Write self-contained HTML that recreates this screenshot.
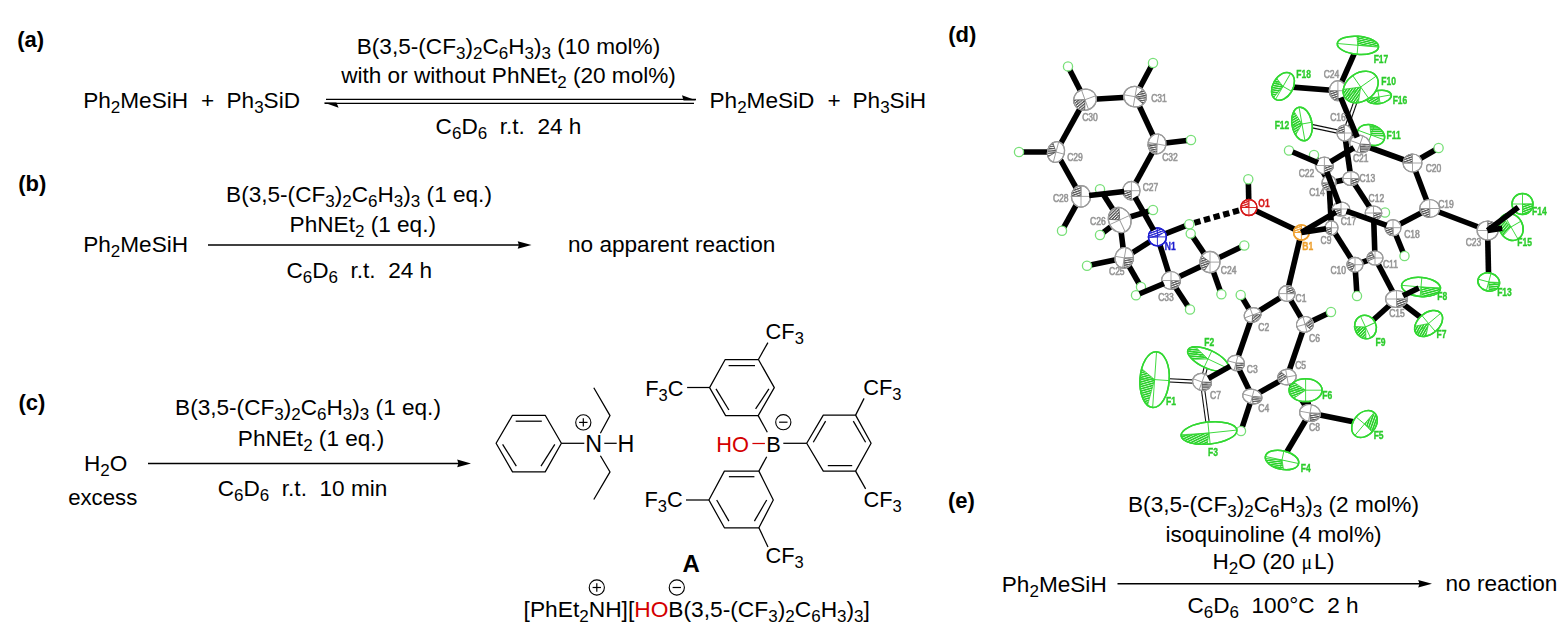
<!DOCTYPE html>
<html><head><meta charset="utf-8"><style>
html,body{margin:0;padding:0;background:#fff;width:1566px;height:630px;overflow:hidden}
svg{display:block;font-family:"Liberation Sans",sans-serif}
</style></head><body>
<svg width="1566" height="630" viewBox="0 0 1566 630">
<rect width="1566" height="630" fill="#fff"/>
<text x="17.3" y="46.5" font-size="22" font-weight="bold" fill="#000" text-anchor="start" >(a)</text>
<text x="18.3" y="191" font-size="22" font-weight="bold" fill="#000" text-anchor="start" >(b)</text>
<text x="18.5" y="410" font-size="22" font-weight="bold" fill="#000" text-anchor="start" >(c)</text>
<text x="948.3" y="42" font-size="22" font-weight="bold" fill="#000" text-anchor="start" >(d)</text>
<text x="948" y="507.5" font-size="22" font-weight="bold" fill="#000" text-anchor="start" >(e)</text>
<text x="83.2" y="108.3" font-size="22.6" font-weight="normal" fill="#000" text-anchor="start" >Ph<tspan font-size="17" baseline-shift="-4.8">2</tspan>MeSiH</text>
<text x="207.5" y="108.3" font-size="22.6" font-weight="normal" fill="#000" text-anchor="middle" >+</text>
<text x="226.5" y="108.3" font-size="22.6" font-weight="normal" fill="#000" text-anchor="start" >Ph<tspan font-size="17" baseline-shift="-4.8">3</tspan>SiD</text>
<text x="508.5" y="53.6" font-size="22.6" font-weight="normal" fill="#000" text-anchor="middle" >B(3,5-(CF<tspan font-size="17" baseline-shift="-4.8">3</tspan>)<tspan font-size="17" baseline-shift="-4.8">2</tspan>C<tspan font-size="17" baseline-shift="-4.8">6</tspan>H<tspan font-size="17" baseline-shift="-4.8">3</tspan>)<tspan font-size="17" baseline-shift="-4.8">3</tspan> (10 mol%)</text>
<text x="508.5" y="83" font-size="22.6" font-weight="normal" fill="#000" text-anchor="middle" >with or without PhNEt<tspan font-size="17" baseline-shift="-4.8">2</tspan> (20 mol%)</text>
<text x="508.5" y="134.1" font-size="22.6" font-weight="normal" fill="#000" text-anchor="middle" xml:space="preserve">C<tspan font-size="17" baseline-shift="-4.8">6</tspan>D<tspan font-size="17" baseline-shift="-4.8">6</tspan>  r.t.  24 h</text>
<line x1="326" y1="99.4" x2="696" y2="99.4" stroke="#000" stroke-width="1.4"/>
<path d="M682,95.2 L696.4,100.6 L683.5,100.6 Z" fill="#000"/>
<line x1="324.5" y1="103.4" x2="694" y2="103.4" stroke="#000" stroke-width="1.4"/>
<path d="M323.8,102.4 L336.4,102.4 L338.6,107.8 Z" fill="#000"/>
<text x="709.5" y="108.3" font-size="22.6" font-weight="normal" fill="#000" text-anchor="start" >Ph<tspan font-size="17" baseline-shift="-4.8">2</tspan>MeSiD</text>
<text x="834" y="108.3" font-size="22.6" font-weight="normal" fill="#000" text-anchor="middle" >+</text>
<text x="852.5" y="108.3" font-size="22.6" font-weight="normal" fill="#000" text-anchor="start" >Ph<tspan font-size="17" baseline-shift="-4.8">3</tspan>SiH</text>
<text x="83.2" y="252.4" font-size="22.6" font-weight="normal" fill="#000" text-anchor="start" >Ph<tspan font-size="17" baseline-shift="-4.8">2</tspan>MeSiH</text>
<text x="359" y="201.6" font-size="22.6" font-weight="normal" fill="#000" text-anchor="middle" >B(3,5-(CF<tspan font-size="17" baseline-shift="-4.8">3</tspan>)<tspan font-size="17" baseline-shift="-4.8">2</tspan>C<tspan font-size="17" baseline-shift="-4.8">6</tspan>H<tspan font-size="17" baseline-shift="-4.8">3</tspan>)<tspan font-size="17" baseline-shift="-4.8">3</tspan> (1 eq.)</text>
<text x="362.8" y="231.7" font-size="22.6" font-weight="normal" fill="#000" text-anchor="middle" >PhNEt<tspan font-size="17" baseline-shift="-4.8">2</tspan> (1 eq.)</text>
<text x="359.3" y="277.5" font-size="22.6" font-weight="normal" fill="#000" text-anchor="middle" xml:space="preserve">C<tspan font-size="17" baseline-shift="-4.8">6</tspan>D<tspan font-size="17" baseline-shift="-4.8">6</tspan>  r.t.  24 h</text>
<line x1="208" y1="245" x2="521.5" y2="245" stroke="#000" stroke-width="1.5"/><path d="M531.5,245 L517.7,241.2 L518.9,245 L517.7,248.8 Z" fill="#000"/>
<text x="568" y="252" font-size="22.6" font-weight="normal" fill="#000" text-anchor="start" >no apparent reaction</text>
<text x="84" y="470.6" font-size="22.6" font-weight="normal" fill="#000" text-anchor="start" >H<tspan font-size="17" baseline-shift="-4.8">2</tspan>O</text>
<text x="68.2" y="504.6" font-size="22.2" font-weight="normal" fill="#000" text-anchor="start" >excess</text>
<text x="308" y="415" font-size="22.6" font-weight="normal" fill="#000" text-anchor="middle" >B(3,5-(CF<tspan font-size="17" baseline-shift="-4.8">3</tspan>)<tspan font-size="17" baseline-shift="-4.8">2</tspan>C<tspan font-size="17" baseline-shift="-4.8">6</tspan>H<tspan font-size="17" baseline-shift="-4.8">3</tspan>)<tspan font-size="17" baseline-shift="-4.8">3</tspan> (1 eq.)</text>
<text x="311" y="445.8" font-size="22.6" font-weight="normal" fill="#000" text-anchor="middle" >PhNEt<tspan font-size="17" baseline-shift="-4.8">2</tspan> (1 eq.)</text>
<text x="302.5" y="496.3" font-size="22.6" font-weight="normal" fill="#000" text-anchor="middle" xml:space="preserve">C<tspan font-size="17" baseline-shift="-4.8">6</tspan>D<tspan font-size="17" baseline-shift="-4.8">6</tspan>  r.t.  10 min</text>
<line x1="148" y1="463.4" x2="461.0" y2="463.4" stroke="#000" stroke-width="1.5"/><path d="M471.0,463.4 L457.2,459.59999999999997 L458.4,463.4 L457.2,467.2 Z" fill="#000"/>
<text x="1001.8" y="592" font-size="22.6" font-weight="normal" fill="#000" text-anchor="start" >Ph<tspan font-size="17" baseline-shift="-4.8">2</tspan>MeSiH</text>
<text x="1273.5" y="512.1" font-size="22.6" font-weight="normal" fill="#000" text-anchor="middle" >B(3,5-(CF<tspan font-size="17" baseline-shift="-4.8">3</tspan>)<tspan font-size="17" baseline-shift="-4.8">2</tspan>C<tspan font-size="17" baseline-shift="-4.8">6</tspan>H<tspan font-size="17" baseline-shift="-4.8">3</tspan>)<tspan font-size="17" baseline-shift="-4.8">3</tspan> (2 mol%)</text>
<text x="1273.5" y="542.4" font-size="22.6" font-weight="normal" fill="#000" text-anchor="middle" >isoquinoline (4 mol%)</text>
<text x="1212.5" y="569" font-size="22.6">H<tspan font-size="17" baseline-shift="-4.8">2</tspan>O (20 <tspan font-family="Liberation Serif" font-size="20" dx="0.5">&#956;</tspan><tspan dx="1.6">L</tspan><tspan dx="0.6">)</tspan></text>
<text x="1273" y="612.6" font-size="22.6" font-weight="normal" fill="#000" text-anchor="middle" xml:space="preserve">C<tspan font-size="17" baseline-shift="-4.8">6</tspan>D<tspan font-size="17" baseline-shift="-4.8">6</tspan>  100°C  2 h</text>
<line x1="1117.5" y1="583.8" x2="1422.0" y2="583.8" stroke="#000" stroke-width="1.5"/><path d="M1432.0,583.8 L1418.2,580.0 L1419.4,583.8 L1418.2,587.5999999999999 Z" fill="#000"/>
<text x="1445.5" y="591" font-size="22.6" font-weight="normal" fill="#000" text-anchor="start" >no reaction</text>
<path d="M496.1,443.3 L512.5,415.3 L545.2,415.3 L561.4,443.3 L545.2,471.9 L512.5,471.9 Z" fill="none" stroke="#000" stroke-width="1.25" stroke-linejoin="round"/>
<line x1="515.7" y1="421.2" x2="541.8" y2="421.2" stroke="#000" stroke-width="1.25"/>
<line x1="502.6" y1="444.3" x2="516.3" y2="466.2" stroke="#000" stroke-width="1.25"/>
<line x1="541" y1="466.2" x2="554.8" y2="444.3" stroke="#000" stroke-width="1.25"/>
<line x1="561.4" y1="443.3" x2="584.3" y2="443.3" stroke="#000" stroke-width="1.25"/>
<text x="585.2" y="451.8" font-size="23.3" font-weight="normal" fill="#000" text-anchor="start" >N</text>
<line x1="604.3" y1="443.3" x2="616.7" y2="443.3" stroke="#000" stroke-width="1.25"/>
<text x="617.6" y="451.8" font-size="23.3" font-weight="normal" fill="#000" text-anchor="start" >H</text>
<circle cx="583.3" cy="422.4" r="7.6" fill="none" stroke="#000" stroke-width="1.1"/><line x1="579.0999999999999" y1="422.4" x2="587.5" y2="422.4" stroke="#000" stroke-width="1.2"/><line x1="583.3" y1="418.2" x2="583.3" y2="426.59999999999997" stroke="#000" stroke-width="1.2"/>
<path d="M600.4,433.3 L610,415.6 L593.8,387.8" fill="none" stroke="#000" stroke-width="1.25" stroke-linejoin="miter"/>
<path d="M600.4,455.7 L610,471.9 L593.8,499.5" fill="none" stroke="#000" stroke-width="1.25" stroke-linejoin="miter"/>
<path d="M709.6,387.6 L725.2,359.5 L758.4,359.5 L774.3,387.6 L758.2,415.6 L725.6,415.6 Z" fill="none" stroke="#000" stroke-width="1.25" stroke-linejoin="round"/>
<line x1="728.6" y1="365.6" x2="755" y2="365.6" stroke="#000" stroke-width="1.25"/>
<line x1="716" y1="388.9" x2="728.9" y2="410" stroke="#000" stroke-width="1.25"/>
<line x1="755.6" y1="408.9" x2="768.9" y2="388.9" stroke="#000" stroke-width="1.25"/>
<line x1="758.4" y1="359.5" x2="767.9" y2="342.6" stroke="#000" stroke-width="1.25"/>
<text x="765.6" y="339.3" font-size="21.8" fill="#000" text-anchor="start">CF<tspan font-size="16.5" baseline-shift="-4.8">3</tspan></text>
<line x1="687.1" y1="387.5" x2="709.6" y2="387.5" stroke="#000" stroke-width="1.25"/>
<text x="645.2" y="395.6" font-size="21.8" fill="#000" text-anchor="start">F<tspan font-size="16.5" baseline-shift="-4.8">3</tspan>C</text>
<line x1="758.2" y1="415.6" x2="767.3" y2="432.2" stroke="#000" stroke-width="1.25"/>
<path d="M806.7,443.3 L823.3,415.1 L855.6,415.1 L871.1,443.3 L855.6,471.1 L823.3,471.1 Z" fill="none" stroke="#000" stroke-width="1.25" stroke-linejoin="round"/>
<line x1="813.3" y1="442.2" x2="825.6" y2="421.1" stroke="#000" stroke-width="1.25"/>
<line x1="853.3" y1="421.1" x2="865.6" y2="442.2" stroke="#000" stroke-width="1.25"/>
<line x1="827.8" y1="465.6" x2="852.2" y2="465.6" stroke="#000" stroke-width="1.25"/>
<line x1="855.6" y1="415.1" x2="864.1" y2="398.4" stroke="#000" stroke-width="1.25"/>
<text x="863.3" y="395.3" font-size="21.8" fill="#000" text-anchor="start">CF<tspan font-size="16.5" baseline-shift="-4.8">3</tspan></text>
<line x1="855.6" y1="471.1" x2="865.6" y2="488.9" stroke="#000" stroke-width="1.25"/>
<text x="863.5" y="506.9" font-size="21.8" fill="#000" text-anchor="start">CF<tspan font-size="16.5" baseline-shift="-4.8">3</tspan></text>
<line x1="783.3" y1="443.3" x2="806.7" y2="443.3" stroke="#000" stroke-width="1.25"/>
<path d="M724.4,471.1 L758.9,471.1 L773.3,500 L758.9,527.8 L724.4,527.8 L708.9,500 Z" fill="none" stroke="#000" stroke-width="1.25" stroke-linejoin="round"/>
<line x1="728.9" y1="476.7" x2="754.4" y2="476.7" stroke="#000" stroke-width="1.25"/>
<line x1="766.7" y1="500" x2="754.4" y2="521.1" stroke="#000" stroke-width="1.25"/>
<line x1="716.7" y1="500" x2="728.9" y2="521.1" stroke="#000" stroke-width="1.25"/>
<line x1="766.7" y1="456.7" x2="758.9" y2="471.1" stroke="#000" stroke-width="1.25"/>
<line x1="686" y1="500" x2="708.9" y2="500" stroke="#000" stroke-width="1.25"/>
<text x="644.5" y="506.9" font-size="21.8" fill="#000" text-anchor="start">F<tspan font-size="16.5" baseline-shift="-4.8">3</tspan>C</text>
<line x1="758.9" y1="527.8" x2="768" y2="547" stroke="#000" stroke-width="1.25"/>
<text x="765.5" y="562.9" font-size="21.8" fill="#000" text-anchor="start">CF<tspan font-size="16.5" baseline-shift="-4.8">3</tspan></text>
<text x="716.3" y="451.7" font-size="21.8" fill="#d40000" text-anchor="start">HO</text>
<line x1="752.4" y1="443.5" x2="764.9" y2="443.5" stroke="#d40000" stroke-width="1.25"/>
<text x="766.3" y="451.7" font-size="21.8" fill="#000" text-anchor="start">B</text>
<circle cx="783.3" cy="422.2" r="7.6" fill="none" stroke="#000" stroke-width="1.1"/><line x1="779.0999999999999" y1="422.2" x2="787.5" y2="422.2" stroke="#000" stroke-width="1.2"/>
<text x="682.6" y="571.7" font-size="24" font-weight="bold" fill="#000" text-anchor="start" >A</text>
<text x="523.6" y="617.1" font-size="22.75" font-weight="normal" fill="#000" text-anchor="start" >[PhEt<tspan font-size="17" baseline-shift="-4.8">2</tspan>NH][<tspan fill="#d40000">HO</tspan>B(3,5-(CF<tspan font-size="17" baseline-shift="-4.8">3</tspan>)<tspan font-size="17" baseline-shift="-4.8">2</tspan>C<tspan font-size="17" baseline-shift="-4.8">6</tspan>H<tspan font-size="17" baseline-shift="-4.8">3</tspan>)<tspan font-size="17" baseline-shift="-4.8">3</tspan>]</text>
<circle cx="596.8" cy="587.5" r="7.6" fill="none" stroke="#000" stroke-width="1.1"/><line x1="592.5999999999999" y1="587.5" x2="601.0" y2="587.5" stroke="#000" stroke-width="1.2"/><line x1="596.8" y1="583.3" x2="596.8" y2="591.7" stroke="#000" stroke-width="1.2"/>
<circle cx="676.8" cy="587.5" r="7.6" fill="none" stroke="#000" stroke-width="1.1"/><line x1="672.5999999999999" y1="587.5" x2="681.0" y2="587.5" stroke="#000" stroke-width="1.2"/>
<filter id="soft" x="930" y="0" width="636" height="500" filterUnits="userSpaceOnUse"><feGaussianBlur stdDeviation="0.4"/></filter>
<g filter="url(#soft)">
<defs><pattern id="hpC" patternUnits="userSpaceOnUse" width="2.2" height="2.2" patternTransform="rotate(70)"><rect width="2.2" height="2.2" fill="#fff"/><rect width="1.3" height="2.2" fill="#505050"/></pattern><pattern id="hpN" patternUnits="userSpaceOnUse" width="2.2" height="2.2" patternTransform="rotate(70)"><rect width="2.2" height="2.2" fill="#fff"/><rect width="1.3" height="2.2" fill="#1f1fd0"/></pattern><pattern id="hpO" patternUnits="userSpaceOnUse" width="2.2" height="2.2" patternTransform="rotate(70)"><rect width="2.2" height="2.2" fill="#fff"/><rect width="1.3" height="2.2" fill="#d61a1a"/></pattern><pattern id="hpB" patternUnits="userSpaceOnUse" width="2.2" height="2.2" patternTransform="rotate(70)"><rect width="2.2" height="2.2" fill="#fff"/><rect width="1.3" height="2.2" fill="#eea030"/></pattern><pattern id="hpF" patternUnits="userSpaceOnUse" width="2.2" height="2.2" patternTransform="rotate(70)"><rect width="2.2" height="2.2" fill="#fff"/><rect width="1.6" height="2.2" fill="#2ad02a"/></pattern><pattern id="hpH" patternUnits="userSpaceOnUse" width="2.2" height="2.2" patternTransform="rotate(70)"><rect width="2.2" height="2.2" fill="#fff"/><rect width="1.3" height="2.2" fill="#78e078"/></pattern></defs>
<line x1="1081" y1="196.4" x2="1056" y2="152" stroke="#000" stroke-width="5.6"/>
<line x1="1056" y1="152" x2="1085" y2="99.7" stroke="#000" stroke-width="5.6"/>
<line x1="1085" y1="99.7" x2="1135" y2="96.7" stroke="#000" stroke-width="5.6"/>
<line x1="1135" y1="96.7" x2="1157" y2="144" stroke="#000" stroke-width="5.6"/>
<line x1="1157" y1="144" x2="1131.4" y2="190.7" stroke="#000" stroke-width="5.6"/>
<line x1="1056" y1="152" x2="1019" y2="152" stroke="#000" stroke-width="5.6"/>
<line x1="1085" y1="99.7" x2="1068" y2="66.4" stroke="#000" stroke-width="5.6"/>
<line x1="1135" y1="96.7" x2="1153" y2="63" stroke="#000" stroke-width="5.6"/>
<line x1="1157" y1="144" x2="1191" y2="140" stroke="#000" stroke-width="5.6"/>
<line x1="1081" y1="196.4" x2="1062" y2="230.7" stroke="#000" stroke-width="5.6"/>
<line x1="1157.4" y1="236.9" x2="1189.3" y2="224.3" stroke="#000" stroke-width="5.6"/>
<line x1="1157.4" y1="236.9" x2="1124.3" y2="257.9" stroke="#000" stroke-width="5.6"/>
<line x1="1157.4" y1="236.9" x2="1171" y2="280.5" stroke="#000" stroke-width="5.6"/>
<line x1="1124.3" y1="257.9" x2="1119.7" y2="220" stroke="#000" stroke-width="5.6"/>
<line x1="1119.7" y1="220" x2="1100" y2="189.3" stroke="#000" stroke-width="5.6"/>
<line x1="1119.7" y1="220" x2="1153" y2="210" stroke="#000" stroke-width="5.6"/>
<line x1="1119.7" y1="220" x2="1100" y2="235" stroke="#000" stroke-width="5.6"/>
<line x1="1124.3" y1="257.9" x2="1087" y2="265.7" stroke="#000" stroke-width="5.6"/>
<line x1="1124.3" y1="257.9" x2="1141" y2="287" stroke="#000" stroke-width="5.6"/>
<line x1="1171" y1="280.5" x2="1190" y2="309.5" stroke="#000" stroke-width="5.6"/>
<line x1="1171" y1="280.5" x2="1210" y2="262.1" stroke="#000" stroke-width="5.6"/>
<line x1="1210" y1="262.1" x2="1190.7" y2="233.6" stroke="#000" stroke-width="5.6"/>
<line x1="1210" y1="262.1" x2="1244.3" y2="245.5" stroke="#000" stroke-width="5.6"/>
<line x1="1210" y1="262.1" x2="1221.4" y2="294.3" stroke="#000" stroke-width="5.6"/>
<line x1="1248.9" y1="207.5" x2="1248.3" y2="179.3" stroke="#000" stroke-width="5.6"/>
<line x1="1248.9" y1="207.5" x2="1301.4" y2="232.5" stroke="#000" stroke-width="5.6"/>
<line x1="1301.4" y1="232.5" x2="1286.9" y2="293.6" stroke="#000" stroke-width="5.6"/>
<line x1="1286.9" y1="293.6" x2="1252.6" y2="315" stroke="#000" stroke-width="5.6"/>
<line x1="1252.6" y1="315" x2="1236" y2="363" stroke="#000" stroke-width="5.6"/>
<line x1="1236" y1="363" x2="1252.3" y2="396.5" stroke="#000" stroke-width="5.6"/>
<line x1="1252.3" y1="396.5" x2="1287" y2="377" stroke="#000" stroke-width="5.6"/>
<line x1="1287" y1="377" x2="1305" y2="324.4" stroke="#000" stroke-width="5.6"/>
<line x1="1305" y1="324.4" x2="1286.9" y2="293.6" stroke="#000" stroke-width="5.6"/>
<line x1="1252.6" y1="315" x2="1240.7" y2="295" stroke="#000" stroke-width="5.6"/>
<line x1="1252.3" y1="396.5" x2="1241" y2="431" stroke="#000" stroke-width="5.6"/>
<line x1="1305" y1="324.4" x2="1331" y2="312" stroke="#000" stroke-width="5.6"/>
<line x1="1287" y1="377" x2="1310" y2="413" stroke="#000" stroke-width="5.6"/>
<line x1="1310" y1="413" x2="1282" y2="460" stroke="#000" stroke-width="5.6"/>
<line x1="1310" y1="413" x2="1364.5" y2="424" stroke="#000" stroke-width="5.6"/>
<line x1="1310" y1="413" x2="1305.6" y2="390.2" stroke="#000" stroke-width="5.6"/>
<line x1="1331.5" y1="227.8" x2="1355" y2="264.7" stroke="#000" stroke-width="5.6"/>
<line x1="1355" y1="264.7" x2="1375" y2="258" stroke="#000" stroke-width="5.6"/>
<line x1="1375" y1="258" x2="1373.5" y2="213" stroke="#000" stroke-width="5.6"/>
<line x1="1373.5" y1="213" x2="1351" y2="178.5" stroke="#000" stroke-width="5.6"/>
<line x1="1351" y1="178.5" x2="1329" y2="183" stroke="#000" stroke-width="5.6"/>
<line x1="1329" y1="183" x2="1331.5" y2="227.8" stroke="#000" stroke-width="5.6"/>
<line x1="1355" y1="264.7" x2="1357" y2="296" stroke="#000" stroke-width="5.6"/>
<line x1="1373.5" y1="213" x2="1385" y2="212.5" stroke="#000" stroke-width="5.6"/>
<line x1="1329" y1="183" x2="1314" y2="155" stroke="#000" stroke-width="5.6"/>
<line x1="1375" y1="258" x2="1396.5" y2="299" stroke="#000" stroke-width="5.6"/>
<line x1="1396.5" y1="299" x2="1428.6" y2="323.5" stroke="#000" stroke-width="5.6"/>
<line x1="1396.5" y1="299" x2="1365.5" y2="327" stroke="#000" stroke-width="5.6"/>
<line x1="1351" y1="178.5" x2="1344.5" y2="133" stroke="#000" stroke-width="5.6"/>
<line x1="1344.5" y1="133" x2="1371" y2="135" stroke="#000" stroke-width="5.6"/>
<line x1="1393" y1="227.7" x2="1429.7" y2="208.5" stroke="#000" stroke-width="5.6"/>
<line x1="1429.7" y1="208.5" x2="1412.5" y2="163" stroke="#000" stroke-width="5.6"/>
<line x1="1412.5" y1="163" x2="1360" y2="144" stroke="#000" stroke-width="5.6"/>
<line x1="1393" y1="227.7" x2="1404.5" y2="256" stroke="#000" stroke-width="5.6"/>
<line x1="1412.5" y1="163" x2="1438.6" y2="148" stroke="#000" stroke-width="5.6"/>
<line x1="1429.7" y1="208.5" x2="1487.6" y2="230.5" stroke="#000" stroke-width="5.6"/>
<line x1="1487.6" y1="230.5" x2="1488.7" y2="282" stroke="#000" stroke-width="5.6"/>
<line x1="1337.9" y1="90.7" x2="1357.9" y2="45.3" stroke="#000" stroke-width="5.6"/>
<line x1="1337.9" y1="90.7" x2="1283" y2="86.4" stroke="#000" stroke-width="5.6"/>
<line x1="1337.9" y1="90.7" x2="1379" y2="97" stroke="#000" stroke-width="5.6"/>
<line x1="1202" y1="382" x2="1154.6" y2="379.6" stroke="#111" stroke-width="4.4"/>
<line x1="1202" y1="382" x2="1154.6" y2="379.6" stroke="#fff" stroke-width="2.2"/>
<line x1="1202" y1="382" x2="1209" y2="433" stroke="#111" stroke-width="4.4"/>
<line x1="1202" y1="382" x2="1209" y2="433" stroke="#fff" stroke-width="2.2"/>
<line x1="1202" y1="382" x2="1208" y2="359" stroke="#111" stroke-width="4.4"/>
<line x1="1202" y1="382" x2="1208" y2="359" stroke="#fff" stroke-width="2.2"/>
<line x1="1344.5" y1="133" x2="1302" y2="124" stroke="#111" stroke-width="4.4"/>
<line x1="1344.5" y1="133" x2="1302" y2="124" stroke="#fff" stroke-width="2.2"/>
<line x1="1344.5" y1="133" x2="1360.7" y2="87" stroke="#111" stroke-width="4.4"/>
<line x1="1344.5" y1="133" x2="1360.7" y2="87" stroke="#fff" stroke-width="2.2"/>
<line x1="1194.3" y1="222.8" x2="1240.9" y2="209.8" stroke="#000" stroke-width="6" stroke-dasharray="6.4,3.6"/>
<circle cx="1019" cy="152" r="4.6" fill="#fff" stroke="#78e078" stroke-width="1.3"/>
<circle cx="1068" cy="66.4" r="4.6" fill="#fff" stroke="#78e078" stroke-width="1.3"/>
<circle cx="1153" cy="63" r="4.6" fill="#fff" stroke="#78e078" stroke-width="1.3"/>
<circle cx="1191" cy="140" r="4.6" fill="#fff" stroke="#78e078" stroke-width="1.3"/>
<circle cx="1062" cy="230.7" r="4.6" fill="#fff" stroke="#78e078" stroke-width="1.3"/>
<circle cx="1100" cy="189.3" r="4.6" fill="#fff" stroke="#78e078" stroke-width="1.3"/>
<g transform="translate(1056,152) rotate(15)"><ellipse rx="8.5" ry="10.5" fill="#ffffff" stroke="#9c9c9c" stroke-width="1.2"/><path d="M0,0 L-6.51,6.75 A8.5,10.5 0 0 1 -5.46,-8.04 Z" fill="url(#hpC)" stroke="#505050" stroke-width="0.7"/><line x1="-8.5" y1="0" x2="8.5" y2="0" stroke="#9c9c9c" stroke-width="0.9"/><line x1="0" y1="-10.5" x2="0" y2="10.5" stroke="#9c9c9c" stroke-width="0.9"/><ellipse rx="8.5" ry="10.5" fill="none" stroke="#9c9c9c" stroke-width="1.2"/></g>
<g transform="translate(1085,99.7) rotate(-20)"><ellipse rx="11.5" ry="10.5" fill="#ffffff" stroke="#9c9c9c" stroke-width="1.2"/><path d="M0,0 L-3.93,9.87 A11.5,10.5 0 0 1 -10.81,-3.59 Z" fill="url(#hpC)" stroke="#505050" stroke-width="0.7"/><line x1="-11.5" y1="0" x2="11.5" y2="0" stroke="#9c9c9c" stroke-width="0.9"/><line x1="0" y1="-10.5" x2="0" y2="10.5" stroke="#9c9c9c" stroke-width="0.9"/><ellipse rx="11.5" ry="10.5" fill="none" stroke="#9c9c9c" stroke-width="1.2"/></g>
<g transform="translate(1135,96.7) rotate(10)"><ellipse rx="11.4" ry="10.2" fill="#ffffff" stroke="#9c9c9c" stroke-width="1.2"/><path d="M0,0 L6.54,-8.36 A11.4,10.2 0 0 1 9.34,5.85 Z" fill="url(#hpC)" stroke="#505050" stroke-width="0.7"/><line x1="-11.4" y1="0" x2="11.4" y2="0" stroke="#9c9c9c" stroke-width="0.9"/><line x1="0" y1="-10.2" x2="0" y2="10.2" stroke="#9c9c9c" stroke-width="0.9"/><ellipse rx="11.4" ry="10.2" fill="none" stroke="#9c9c9c" stroke-width="1.2"/></g>
<g transform="translate(1157,144) rotate(10)"><ellipse rx="9" ry="10" fill="#ffffff" stroke="#9c9c9c" stroke-width="1.2"/><path d="M0,0 L1.56,9.85 A9,10 0 0 1 -8.86,1.74 Z" fill="url(#hpC)" stroke="#505050" stroke-width="0.7"/><line x1="-9" y1="0" x2="9" y2="0" stroke="#9c9c9c" stroke-width="0.9"/><line x1="0" y1="-10" x2="0" y2="10" stroke="#9c9c9c" stroke-width="0.9"/><ellipse rx="9" ry="10" fill="none" stroke="#9c9c9c" stroke-width="1.2"/></g>
<g transform="translate(1081,196.4) rotate(0)"><ellipse rx="9.6" ry="10.7" fill="#ffffff" stroke="#9c9c9c" stroke-width="1.2"/><path d="M0,0 L-9.60,0.00 A9.6,10.7 0 0 1 -0.00,-10.70 Z" fill="url(#hpC)" stroke="#505050" stroke-width="0.7"/><line x1="-9.6" y1="0" x2="9.6" y2="0" stroke="#9c9c9c" stroke-width="0.9"/><line x1="0" y1="-10.7" x2="0" y2="10.7" stroke="#9c9c9c" stroke-width="0.9"/><ellipse rx="9.6" ry="10.7" fill="none" stroke="#9c9c9c" stroke-width="1.2"/></g>
<g transform="translate(1131.4,190.7) rotate(0)"><ellipse rx="8.6" ry="9.3" fill="#ffffff" stroke="#9c9c9c" stroke-width="1.2"/><path d="M0,0 L0.00,9.30 A8.6,9.3 0 0 1 -8.60,0.00 Z" fill="url(#hpC)" stroke="#505050" stroke-width="0.7"/><line x1="-8.6" y1="0" x2="8.6" y2="0" stroke="#9c9c9c" stroke-width="0.9"/><line x1="0" y1="-9.3" x2="0" y2="9.3" stroke="#9c9c9c" stroke-width="0.9"/><ellipse rx="8.6" ry="9.3" fill="none" stroke="#9c9c9c" stroke-width="1.2"/></g>
<circle cx="1153" cy="210" r="4.6" fill="#fff" stroke="#78e078" stroke-width="1.3"/>
<circle cx="1100" cy="235" r="4.6" fill="#fff" stroke="#78e078" stroke-width="1.3"/>
<circle cx="1087" cy="265.7" r="4.6" fill="#fff" stroke="#78e078" stroke-width="1.3"/>
<circle cx="1141" cy="287" r="4.6" fill="#fff" stroke="#78e078" stroke-width="1.3"/>
<circle cx="1136" cy="295.3" r="4.6" fill="#fff" stroke="#78e078" stroke-width="1.3"/>
<circle cx="1190" cy="309.5" r="4.6" fill="#fff" stroke="#78e078" stroke-width="1.3"/>
<circle cx="1189.3" cy="224.3" r="4.6" fill="#fff" stroke="#78e078" stroke-width="1.3"/>
<circle cx="1190.7" cy="233.6" r="4.6" fill="#fff" stroke="#78e078" stroke-width="1.3"/>
<circle cx="1244.3" cy="245.5" r="4.6" fill="#fff" stroke="#78e078" stroke-width="1.3"/>
<circle cx="1221.4" cy="294.3" r="4.6" fill="#fff" stroke="#78e078" stroke-width="1.3"/>
<circle cx="1248.3" cy="179.3" r="4.6" fill="#fff" stroke="#78e078" stroke-width="1.3"/>
<g transform="translate(1119.7,220) rotate(-25)"><ellipse rx="11" ry="12.9" fill="#ffffff" stroke="#9c9c9c" stroke-width="1.2"/><path d="M0,0 L-9.97,-5.45 A11,12.9 0 0 1 4.65,-11.69 Z" fill="url(#hpC)" stroke="#505050" stroke-width="0.7"/><line x1="-11" y1="0" x2="11" y2="0" stroke="#9c9c9c" stroke-width="0.9"/><line x1="0" y1="-12.9" x2="0" y2="12.9" stroke="#9c9c9c" stroke-width="0.9"/><ellipse rx="11" ry="12.9" fill="none" stroke="#9c9c9c" stroke-width="1.2"/></g>
<g transform="translate(1124.3,257.9) rotate(10)"><ellipse rx="9.3" ry="10.4" fill="#ffffff" stroke="#9c9c9c" stroke-width="1.2"/><path d="M0,0 L9.16,-1.81 A9.3,10.4 0 0 1 1.61,10.24 Z" fill="url(#hpC)" stroke="#505050" stroke-width="0.7"/><line x1="-9.3" y1="0" x2="9.3" y2="0" stroke="#9c9c9c" stroke-width="0.9"/><line x1="0" y1="-10.4" x2="0" y2="10.4" stroke="#9c9c9c" stroke-width="0.9"/><ellipse rx="9.3" ry="10.4" fill="none" stroke="#9c9c9c" stroke-width="1.2"/></g>
<g transform="translate(1157.4,236.9) rotate(0)"><ellipse rx="9" ry="9" fill="#ffffff" stroke="#1f1fd0" stroke-width="1.4"/><path d="M0,0 L-8.97,0.78 A9,9 0 0 1 7.37,-5.16 Z" fill="url(#hpN)" stroke="#1f1fd0" stroke-width="0.7"/><line x1="-9" y1="0" x2="9" y2="0" stroke="#1f1fd0" stroke-width="0.9"/><line x1="0" y1="-9" x2="0" y2="9" stroke="#1f1fd0" stroke-width="0.9"/><ellipse rx="9" ry="9" fill="none" stroke="#1f1fd0" stroke-width="1.4"/></g>
<g transform="translate(1171,280.5) rotate(0)"><ellipse rx="9.5" ry="9" fill="#ffffff" stroke="#9c9c9c" stroke-width="1.2"/><path d="M0,0 L9.50,0.00 A9.5,9 0 0 1 0.00,9.00 Z" fill="url(#hpC)" stroke="#505050" stroke-width="0.7"/><line x1="-9.5" y1="0" x2="9.5" y2="0" stroke="#9c9c9c" stroke-width="0.9"/><line x1="0" y1="-9" x2="0" y2="9" stroke="#9c9c9c" stroke-width="0.9"/><ellipse rx="9.5" ry="9" fill="none" stroke="#9c9c9c" stroke-width="1.2"/></g>
<g transform="translate(1210,262.1) rotate(0)"><ellipse rx="10" ry="10.7" fill="#ffffff" stroke="#9c9c9c" stroke-width="1.2"/><path d="M0,0 L-5.74,8.76 A10,10.7 0 0 1 -8.19,-6.14 Z" fill="url(#hpC)" stroke="#505050" stroke-width="0.7"/><line x1="-10" y1="0" x2="10" y2="0" stroke="#9c9c9c" stroke-width="0.9"/><line x1="0" y1="-10.7" x2="0" y2="10.7" stroke="#9c9c9c" stroke-width="0.9"/><ellipse rx="10" ry="10.7" fill="none" stroke="#9c9c9c" stroke-width="1.2"/></g>
<g transform="translate(1248.9,207.5) rotate(0)"><ellipse rx="8" ry="8" fill="#ffffff" stroke="#d61a1a" stroke-width="1.4"/><path d="M0,0 L-8.00,0.00 A8,8 0 0 1 -0.00,-8.00 Z" fill="url(#hpO)" stroke="#d61a1a" stroke-width="0.7"/><line x1="-8" y1="0" x2="8" y2="0" stroke="#d61a1a" stroke-width="0.9"/><line x1="0" y1="-8" x2="0" y2="8" stroke="#d61a1a" stroke-width="0.9"/><ellipse rx="8" ry="8" fill="none" stroke="#d61a1a" stroke-width="1.4"/></g>
<g transform="translate(1301.4,232.5) rotate(0)"><ellipse rx="7.8" ry="7.6" fill="#ffffff" stroke="#eea030" stroke-width="1.4"/><path d="M0,0 L-7.80,0.00 A7.8,7.6 0 0 1 -0.00,-7.60 Z" fill="url(#hpB)" stroke="#eea030" stroke-width="0.7"/><line x1="-7.8" y1="0" x2="7.8" y2="0" stroke="#eea030" stroke-width="0.9"/><line x1="0" y1="-7.6" x2="0" y2="7.6" stroke="#eea030" stroke-width="0.9"/><ellipse rx="7.8" ry="7.6" fill="none" stroke="#eea030" stroke-width="1.4"/></g>
<circle cx="1240.7" cy="295" r="4.6" fill="#fff" stroke="#78e078" stroke-width="1.3"/>
<circle cx="1241" cy="431" r="4.6" fill="#fff" stroke="#78e078" stroke-width="1.3"/>
<circle cx="1331" cy="312" r="4.6" fill="#fff" stroke="#78e078" stroke-width="1.3"/>
<g transform="translate(1286.9,293.6) rotate(0)"><ellipse rx="8.2" ry="7.9" fill="#ffffff" stroke="#9c9c9c" stroke-width="1.2"/><path d="M0,0 L-0.00,-7.90 A8.2,7.9 0 0 1 8.20,-0.00 Z" fill="url(#hpC)" stroke="#505050" stroke-width="0.7"/><line x1="-8.2" y1="0" x2="8.2" y2="0" stroke="#9c9c9c" stroke-width="0.9"/><line x1="0" y1="-7.9" x2="0" y2="7.9" stroke="#9c9c9c" stroke-width="0.9"/><ellipse rx="8.2" ry="7.9" fill="none" stroke="#9c9c9c" stroke-width="1.2"/></g>
<g transform="translate(1252.6,315) rotate(-20)"><ellipse rx="8.6" ry="7.2" fill="#ffffff" stroke="#9c9c9c" stroke-width="1.2"/><path d="M0,0 L8.08,2.46 A8.6,7.2 0 0 1 -2.94,6.77 Z" fill="url(#hpC)" stroke="#505050" stroke-width="0.7"/><line x1="-8.6" y1="0" x2="8.6" y2="0" stroke="#9c9c9c" stroke-width="0.9"/><line x1="0" y1="-7.2" x2="0" y2="7.2" stroke="#9c9c9c" stroke-width="0.9"/><ellipse rx="8.6" ry="7.2" fill="none" stroke="#9c9c9c" stroke-width="1.2"/></g>
<g transform="translate(1236,363) rotate(15)"><ellipse rx="8.6" ry="7.6" fill="#ffffff" stroke="#9c9c9c" stroke-width="1.2"/><path d="M0,0 L8.31,-1.97 A8.6,7.6 0 0 1 2.23,7.34 Z" fill="url(#hpC)" stroke="#505050" stroke-width="0.7"/><line x1="-8.6" y1="0" x2="8.6" y2="0" stroke="#9c9c9c" stroke-width="0.9"/><line x1="0" y1="-7.6" x2="0" y2="7.6" stroke="#9c9c9c" stroke-width="0.9"/><ellipse rx="8.6" ry="7.6" fill="none" stroke="#9c9c9c" stroke-width="1.2"/></g>
<g transform="translate(1252.3,396.5) rotate(15)"><ellipse rx="9.8" ry="7.2" fill="#ffffff" stroke="#9c9c9c" stroke-width="1.2"/><path d="M0,0 L9.47,-1.86 A9.8,7.2 0 0 1 2.54,6.95 Z" fill="url(#hpC)" stroke="#505050" stroke-width="0.7"/><line x1="-9.8" y1="0" x2="9.8" y2="0" stroke="#9c9c9c" stroke-width="0.9"/><line x1="0" y1="-7.2" x2="0" y2="7.2" stroke="#9c9c9c" stroke-width="0.9"/><ellipse rx="9.8" ry="7.2" fill="none" stroke="#9c9c9c" stroke-width="1.2"/></g>
<g transform="translate(1287,377) rotate(-10)"><ellipse rx="9.3" ry="7.8" fill="#ffffff" stroke="#9c9c9c" stroke-width="1.2"/><path d="M0,0 L-7.62,4.47 A9.3,7.8 0 0 1 -5.33,-6.39 Z" fill="url(#hpC)" stroke="#505050" stroke-width="0.7"/><line x1="-9.3" y1="0" x2="9.3" y2="0" stroke="#9c9c9c" stroke-width="0.9"/><line x1="0" y1="-7.8" x2="0" y2="7.8" stroke="#9c9c9c" stroke-width="0.9"/><ellipse rx="9.3" ry="7.8" fill="none" stroke="#9c9c9c" stroke-width="1.2"/></g>
<g transform="translate(1305,324.4) rotate(-15)"><ellipse rx="8.6" ry="7.8" fill="#ffffff" stroke="#9c9c9c" stroke-width="1.2"/><path d="M0,0 L7.45,-3.90 A8.6,7.8 0 0 1 4.30,6.75 Z" fill="url(#hpC)" stroke="#505050" stroke-width="0.7"/><line x1="-8.6" y1="0" x2="8.6" y2="0" stroke="#9c9c9c" stroke-width="0.9"/><line x1="0" y1="-7.8" x2="0" y2="7.8" stroke="#9c9c9c" stroke-width="0.9"/><ellipse rx="8.6" ry="7.8" fill="none" stroke="#9c9c9c" stroke-width="1.2"/></g>
<g transform="translate(1154.6,379.6) rotate(4)"><ellipse rx="14.6" ry="28" fill="#ffffff" stroke="#33d833" stroke-width="1.5"/><path d="M0,0 L-5.23,26.14 A14.6,28 0 0 1 -13.63,-10.03 Z" fill="url(#hpF)" stroke="#2ad02a" stroke-width="0.7"/><line x1="-14.6" y1="0" x2="14.6" y2="0" stroke="#33d833" stroke-width="0.9"/><line x1="0" y1="-28" x2="0" y2="28" stroke="#33d833" stroke-width="0.9"/><ellipse rx="14.6" ry="28" fill="none" stroke="#33d833" stroke-width="1.5"/></g>
<g transform="translate(1208,359) rotate(25)"><ellipse rx="22" ry="9" fill="#ffffff" stroke="#33d833" stroke-width="1.5"/><path d="M0,0 L-14.14,6.89 A22,9 0 0 1 -16.85,-5.79 Z" fill="url(#hpF)" stroke="#2ad02a" stroke-width="0.7"/><line x1="-22" y1="0" x2="22" y2="0" stroke="#33d833" stroke-width="0.9"/><line x1="0" y1="-9" x2="0" y2="9" stroke="#33d833" stroke-width="0.9"/><ellipse rx="22" ry="9" fill="none" stroke="#33d833" stroke-width="1.5"/></g>
<g transform="translate(1209,433) rotate(-6)"><ellipse rx="28" ry="11" fill="#ffffff" stroke="#33d833" stroke-width="1.5"/><path d="M0,0 L-2.93,10.94 A28,11 0 0 1 -27.85,-1.15 Z" fill="url(#hpF)" stroke="#2ad02a" stroke-width="0.7"/><line x1="-28" y1="0" x2="28" y2="0" stroke="#33d833" stroke-width="0.9"/><line x1="0" y1="-11" x2="0" y2="11" stroke="#33d833" stroke-width="0.9"/><ellipse rx="28" ry="11" fill="none" stroke="#33d833" stroke-width="1.5"/></g>
<g transform="translate(1202,382) rotate(20)"><ellipse rx="9.6" ry="8.4" fill="#ffffff" stroke="#9c9c9c" stroke-width="1.2"/><path d="M0,0 L9.02,-2.87 A9.6,8.4 0 0 1 3.28,7.89 Z" fill="url(#hpC)" stroke="#505050" stroke-width="0.7"/><line x1="-9.6" y1="0" x2="9.6" y2="0" stroke="#9c9c9c" stroke-width="0.9"/><line x1="0" y1="-8.4" x2="0" y2="8.4" stroke="#9c9c9c" stroke-width="0.9"/><ellipse rx="9.6" ry="8.4" fill="none" stroke="#9c9c9c" stroke-width="1.2"/></g>
<g transform="translate(1310,413) rotate(10)"><ellipse rx="10.5" ry="8.4" fill="#ffffff" stroke="#9c9c9c" stroke-width="1.2"/><path d="M0,0 L10.34,-1.46 A10.5,8.4 0 0 1 1.82,8.27 Z" fill="url(#hpC)" stroke="#505050" stroke-width="0.7"/><line x1="-10.5" y1="0" x2="10.5" y2="0" stroke="#9c9c9c" stroke-width="0.9"/><line x1="0" y1="-8.4" x2="0" y2="8.4" stroke="#9c9c9c" stroke-width="0.9"/><ellipse rx="10.5" ry="8.4" fill="none" stroke="#9c9c9c" stroke-width="1.2"/></g>
<g transform="translate(1282,460) rotate(12)"><ellipse rx="17" ry="9.3" fill="#ffffff" stroke="#33d833" stroke-width="1.5"/><path d="M0,0 L3.53,9.10 A17,9.3 0 0 1 -16.63,1.93 Z" fill="url(#hpF)" stroke="#2ad02a" stroke-width="0.7"/><line x1="-17" y1="0" x2="17" y2="0" stroke="#33d833" stroke-width="0.9"/><line x1="0" y1="-9.3" x2="0" y2="9.3" stroke="#33d833" stroke-width="0.9"/><ellipse rx="17" ry="9.3" fill="none" stroke="#33d833" stroke-width="1.5"/></g>
<g transform="translate(1364.5,424) rotate(-50)"><ellipse rx="15" ry="11" fill="#ffffff" stroke="#33d833" stroke-width="1.5"/><path d="M0,0 L14.94,0.96 A15,11 0 0 1 -1.31,10.96 Z" fill="url(#hpF)" stroke="#2ad02a" stroke-width="0.7"/><line x1="-15" y1="0" x2="15" y2="0" stroke="#33d833" stroke-width="0.9"/><line x1="0" y1="-11" x2="0" y2="11" stroke="#33d833" stroke-width="0.9"/><ellipse rx="15" ry="11" fill="none" stroke="#33d833" stroke-width="1.5"/></g>
<g transform="translate(1305.6,390.2) rotate(0)"><ellipse rx="16.5" ry="11.4" fill="#ffffff" stroke="#33d833" stroke-width="1.5"/><path d="M0,0 L-11.67,8.06 A16.5,11.4 0 0 1 -11.67,-8.06 Z" fill="url(#hpF)" stroke="#2ad02a" stroke-width="0.7"/><line x1="-16.5" y1="0" x2="16.5" y2="0" stroke="#33d833" stroke-width="0.9"/><line x1="0" y1="-11.4" x2="0" y2="11.4" stroke="#33d833" stroke-width="0.9"/><ellipse rx="16.5" ry="11.4" fill="none" stroke="#33d833" stroke-width="1.5"/></g>
<circle cx="1357" cy="296" r="4.6" fill="#fff" stroke="#78e078" stroke-width="1.3"/>
<circle cx="1385" cy="212.5" r="4.6" fill="#fff" stroke="#78e078" stroke-width="1.3"/>
<circle cx="1314" cy="155" r="4.6" fill="#fff" stroke="#78e078" stroke-width="1.3"/>
<circle cx="1404.5" cy="256" r="4.6" fill="#fff" stroke="#78e078" stroke-width="1.3"/>
<circle cx="1438.6" cy="148" r="4.6" fill="#fff" stroke="#78e078" stroke-width="1.3"/>
<circle cx="1289" cy="150.5" r="4.6" fill="#fff" stroke="#78e078" stroke-width="1.3"/>
<g transform="translate(1331.5,227.8) rotate(0)"><ellipse rx="6.5" ry="7" fill="#ffffff" stroke="#9c9c9c" stroke-width="1.2"/><path d="M0,0 L0.00,7.00 A6.5,7 0 0 1 -6.50,0.00 Z" fill="url(#hpC)" stroke="#505050" stroke-width="0.7"/><line x1="-6.5" y1="0" x2="6.5" y2="0" stroke="#9c9c9c" stroke-width="0.9"/><line x1="0" y1="-7" x2="0" y2="7" stroke="#9c9c9c" stroke-width="0.9"/><ellipse rx="6.5" ry="7" fill="none" stroke="#9c9c9c" stroke-width="1.2"/></g>
<g transform="translate(1355,264.7) rotate(0)"><ellipse rx="8" ry="7.3" fill="#ffffff" stroke="#9c9c9c" stroke-width="1.2"/><path d="M0,0 L-3.38,6.62 A8,7.3 0 0 1 -7.25,-3.09 Z" fill="url(#hpC)" stroke="#505050" stroke-width="0.7"/><line x1="-8" y1="0" x2="8" y2="0" stroke="#9c9c9c" stroke-width="0.9"/><line x1="0" y1="-7.3" x2="0" y2="7.3" stroke="#9c9c9c" stroke-width="0.9"/><ellipse rx="8" ry="7.3" fill="none" stroke="#9c9c9c" stroke-width="1.2"/></g>
<g transform="translate(1375,258) rotate(0)"><ellipse rx="8" ry="7" fill="#ffffff" stroke="#9c9c9c" stroke-width="1.2"/><path d="M0,0 L-7.25,2.96 A8,7 0 0 1 -3.38,-6.34 Z" fill="url(#hpC)" stroke="#505050" stroke-width="0.7"/><line x1="-8" y1="0" x2="8" y2="0" stroke="#9c9c9c" stroke-width="0.9"/><line x1="0" y1="-7" x2="0" y2="7" stroke="#9c9c9c" stroke-width="0.9"/><ellipse rx="8" ry="7" fill="none" stroke="#9c9c9c" stroke-width="1.2"/></g>
<g transform="translate(1373.5,213) rotate(0)"><ellipse rx="8.3" ry="7" fill="#ffffff" stroke="#9c9c9c" stroke-width="1.2"/><path d="M0,0 L8.30,0.00 A8.3,7 0 0 1 0.00,7.00 Z" fill="url(#hpC)" stroke="#505050" stroke-width="0.7"/><line x1="-8.3" y1="0" x2="8.3" y2="0" stroke="#9c9c9c" stroke-width="0.9"/><line x1="0" y1="-7" x2="0" y2="7" stroke="#9c9c9c" stroke-width="0.9"/><ellipse rx="8.3" ry="7" fill="none" stroke="#9c9c9c" stroke-width="1.2"/></g>
<g transform="translate(1351,178.5) rotate(0)"><ellipse rx="8.3" ry="7" fill="#ffffff" stroke="#9c9c9c" stroke-width="1.2"/><path d="M0,0 L8.30,0.00 A8.3,7 0 0 1 0.00,7.00 Z" fill="url(#hpC)" stroke="#505050" stroke-width="0.7"/><line x1="-8.3" y1="0" x2="8.3" y2="0" stroke="#9c9c9c" stroke-width="0.9"/><line x1="0" y1="-7" x2="0" y2="7" stroke="#9c9c9c" stroke-width="0.9"/><ellipse rx="8.3" ry="7" fill="none" stroke="#9c9c9c" stroke-width="1.2"/></g>
<g transform="translate(1329,183) rotate(0)"><ellipse rx="7" ry="7.5" fill="#ffffff" stroke="#9c9c9c" stroke-width="1.2"/><path d="M0,0 L0.00,7.50 A7,7.5 0 0 1 -7.00,0.00 Z" fill="url(#hpC)" stroke="#505050" stroke-width="0.7"/><line x1="-7" y1="0" x2="7" y2="0" stroke="#9c9c9c" stroke-width="0.9"/><line x1="0" y1="-7.5" x2="0" y2="7.5" stroke="#9c9c9c" stroke-width="0.9"/><ellipse rx="7" ry="7.5" fill="none" stroke="#9c9c9c" stroke-width="1.2"/></g>
<g transform="translate(1396.5,299) rotate(0)"><ellipse rx="11" ry="8.5" fill="#ffffff" stroke="#9c9c9c" stroke-width="1.2"/><path d="M0,0 L11.00,0.00 A11,8.5 0 0 1 0.00,8.50 Z" fill="url(#hpC)" stroke="#505050" stroke-width="0.7"/><line x1="-11" y1="0" x2="11" y2="0" stroke="#9c9c9c" stroke-width="0.9"/><line x1="0" y1="-8.5" x2="0" y2="8.5" stroke="#9c9c9c" stroke-width="0.9"/><ellipse rx="11" ry="8.5" fill="none" stroke="#9c9c9c" stroke-width="1.2"/></g>
<g transform="translate(1428.6,323.5) rotate(-40)"><ellipse rx="16" ry="10.5" fill="#ffffff" stroke="#33d833" stroke-width="1.5"/><path d="M0,0 L-10.28,8.04 A16,10.5 0 0 1 -12.26,-6.75 Z" fill="url(#hpF)" stroke="#2ad02a" stroke-width="0.7"/><line x1="-16" y1="0" x2="16" y2="0" stroke="#33d833" stroke-width="0.9"/><line x1="0" y1="-10.5" x2="0" y2="10.5" stroke="#33d833" stroke-width="0.9"/><ellipse rx="16" ry="10.5" fill="none" stroke="#33d833" stroke-width="1.5"/></g>
<g transform="translate(1421,287) rotate(5)"><ellipse rx="19.5" ry="9.5" fill="#ffffff" stroke="#33d833" stroke-width="1.5"/><path d="M0,0 L19.43,-0.83 A19.5,9.5 0 0 1 1.70,9.46 Z" fill="url(#hpF)" stroke="#2ad02a" stroke-width="0.7"/><line x1="-19.5" y1="0" x2="19.5" y2="0" stroke="#33d833" stroke-width="0.9"/><line x1="0" y1="-9.5" x2="0" y2="9.5" stroke="#33d833" stroke-width="0.9"/><ellipse rx="19.5" ry="9.5" fill="none" stroke="#33d833" stroke-width="1.5"/></g>
<g transform="translate(1365.5,327) rotate(-25)"><ellipse rx="10.7" ry="12" fill="#ffffff" stroke="#33d833" stroke-width="1.5"/><path d="M0,0 L-4.52,10.88 A10.7,12 0 0 1 -9.70,-5.07 Z" fill="url(#hpF)" stroke="#2ad02a" stroke-width="0.7"/><line x1="-10.7" y1="0" x2="10.7" y2="0" stroke="#33d833" stroke-width="0.9"/><line x1="0" y1="-12" x2="0" y2="12" stroke="#33d833" stroke-width="0.9"/><ellipse rx="10.7" ry="12" fill="none" stroke="#33d833" stroke-width="1.5"/></g>
<g transform="translate(1344.5,133) rotate(0)"><ellipse rx="7.5" ry="8" fill="#ffffff" stroke="#9c9c9c" stroke-width="1.2"/><path d="M0,0 L-7.50,0.00 A7.5,8 0 0 1 -0.00,-8.00 Z" fill="url(#hpC)" stroke="#505050" stroke-width="0.7"/><line x1="-7.5" y1="0" x2="7.5" y2="0" stroke="#9c9c9c" stroke-width="0.9"/><line x1="0" y1="-8" x2="0" y2="8" stroke="#9c9c9c" stroke-width="0.9"/><ellipse rx="7.5" ry="8" fill="none" stroke="#9c9c9c" stroke-width="1.2"/></g>
<g transform="translate(1302,124) rotate(-10)"><ellipse rx="10" ry="17" fill="#ffffff" stroke="#33d833" stroke-width="1.5"/><path d="M0,0 L-8.19,9.75 A10,17 0 0 1 -5.74,-13.93 Z" fill="url(#hpF)" stroke="#2ad02a" stroke-width="0.7"/><line x1="-10" y1="0" x2="10" y2="0" stroke="#33d833" stroke-width="0.9"/><line x1="0" y1="-17" x2="0" y2="17" stroke="#33d833" stroke-width="0.9"/><ellipse rx="10" ry="17" fill="none" stroke="#33d833" stroke-width="1.5"/></g>
<g transform="translate(1371,135) rotate(20)"><ellipse rx="14" ry="10" fill="#ffffff" stroke="#33d833" stroke-width="1.5"/><path d="M0,0 L-4.79,-9.40 A14,10 0 0 1 13.16,-3.42 Z" fill="url(#hpF)" stroke="#2ad02a" stroke-width="0.7"/><line x1="-14" y1="0" x2="14" y2="0" stroke="#33d833" stroke-width="0.9"/><line x1="0" y1="-10" x2="0" y2="10" stroke="#33d833" stroke-width="0.9"/><ellipse rx="14" ry="10" fill="none" stroke="#33d833" stroke-width="1.5"/></g>
<g transform="translate(1341,209) rotate(0)"><ellipse rx="8.7" ry="7" fill="#ffffff" stroke="#9c9c9c" stroke-width="1.2"/><path d="M0,0 L0.00,7.00 A8.7,7 0 0 1 -8.70,0.00 Z" fill="url(#hpC)" stroke="#505050" stroke-width="0.7"/><line x1="-8.7" y1="0" x2="8.7" y2="0" stroke="#9c9c9c" stroke-width="0.9"/><line x1="0" y1="-7" x2="0" y2="7" stroke="#9c9c9c" stroke-width="0.9"/><ellipse rx="8.7" ry="7" fill="none" stroke="#9c9c9c" stroke-width="1.2"/></g>
<g transform="translate(1393,227.7) rotate(0)"><ellipse rx="8" ry="8" fill="#ffffff" stroke="#9c9c9c" stroke-width="1.2"/><path d="M0,0 L0.00,8.00 A8,8 0 0 1 -8.00,0.00 Z" fill="url(#hpC)" stroke="#505050" stroke-width="0.7"/><line x1="-8" y1="0" x2="8" y2="0" stroke="#9c9c9c" stroke-width="0.9"/><line x1="0" y1="-8" x2="0" y2="8" stroke="#9c9c9c" stroke-width="0.9"/><ellipse rx="8" ry="8" fill="none" stroke="#9c9c9c" stroke-width="1.2"/></g>
<g transform="translate(1429.7,208.5) rotate(0)"><ellipse rx="10" ry="9" fill="#ffffff" stroke="#9c9c9c" stroke-width="1.2"/><path d="M0,0 L0.00,9.00 A10,9 0 0 1 -10.00,0.00 Z" fill="url(#hpC)" stroke="#505050" stroke-width="0.7"/><line x1="-10" y1="0" x2="10" y2="0" stroke="#9c9c9c" stroke-width="0.9"/><line x1="0" y1="-9" x2="0" y2="9" stroke="#9c9c9c" stroke-width="0.9"/><ellipse rx="10" ry="9" fill="none" stroke="#9c9c9c" stroke-width="1.2"/></g>
<g transform="translate(1412.5,163) rotate(0)"><ellipse rx="9.5" ry="9" fill="#ffffff" stroke="#9c9c9c" stroke-width="1.2"/><path d="M0,0 L-9.50,0.00 A9.5,9 0 0 1 -0.00,-9.00 Z" fill="url(#hpC)" stroke="#505050" stroke-width="0.7"/><line x1="-9.5" y1="0" x2="9.5" y2="0" stroke="#9c9c9c" stroke-width="0.9"/><line x1="0" y1="-9" x2="0" y2="9" stroke="#9c9c9c" stroke-width="0.9"/><ellipse rx="9.5" ry="9" fill="none" stroke="#9c9c9c" stroke-width="1.2"/></g>
<g transform="translate(1324.4,165.5) rotate(0)"><ellipse rx="9" ry="8.3" fill="#ffffff" stroke="#9c9c9c" stroke-width="1.2"/><path d="M0,0 L9.00,0.00 A9,8.3 0 0 1 0.00,8.30 Z" fill="url(#hpC)" stroke="#505050" stroke-width="0.7"/><line x1="-9" y1="0" x2="9" y2="0" stroke="#9c9c9c" stroke-width="0.9"/><line x1="0" y1="-8.3" x2="0" y2="8.3" stroke="#9c9c9c" stroke-width="0.9"/><ellipse rx="9" ry="8.3" fill="none" stroke="#9c9c9c" stroke-width="1.2"/></g>
<g transform="translate(1360,144) rotate(20)"><ellipse rx="10.5" ry="8.5" fill="#ffffff" stroke="#9c9c9c" stroke-width="1.2"/><path d="M0,0 L9.87,-2.91 A10.5,8.5 0 0 1 3.59,7.99 Z" fill="url(#hpC)" stroke="#505050" stroke-width="0.7"/><line x1="-10.5" y1="0" x2="10.5" y2="0" stroke="#9c9c9c" stroke-width="0.9"/><line x1="0" y1="-8.5" x2="0" y2="8.5" stroke="#9c9c9c" stroke-width="0.9"/><ellipse rx="10.5" ry="8.5" fill="none" stroke="#9c9c9c" stroke-width="1.2"/></g>
<g transform="translate(1487.6,230.5) rotate(0)"><ellipse rx="10.5" ry="9.5" fill="#ffffff" stroke="#9c9c9c" stroke-width="1.2"/><path d="M0,0 L-0.00,-9.50 A10.5,9.5 0 0 1 10.50,-0.00 Z" fill="url(#hpC)" stroke="#505050" stroke-width="0.7"/><line x1="-10.5" y1="0" x2="10.5" y2="0" stroke="#9c9c9c" stroke-width="0.9"/><line x1="0" y1="-9.5" x2="0" y2="9.5" stroke="#9c9c9c" stroke-width="0.9"/><ellipse rx="10.5" ry="9.5" fill="none" stroke="#9c9c9c" stroke-width="1.2"/></g>
<g transform="translate(1488.7,282) rotate(15)"><ellipse rx="11" ry="9" fill="#ffffff" stroke="#33d833" stroke-width="1.5"/><path d="M0,0 L10.63,-2.33 A11,9 0 0 1 2.85,8.69 Z" fill="url(#hpF)" stroke="#2ad02a" stroke-width="0.7"/><line x1="-11" y1="0" x2="11" y2="0" stroke="#33d833" stroke-width="0.9"/><line x1="0" y1="-9" x2="0" y2="9" stroke="#33d833" stroke-width="0.9"/><ellipse rx="11" ry="9" fill="none" stroke="#33d833" stroke-width="1.5"/></g>
<g transform="translate(1522.5,204) rotate(0)"><ellipse rx="10.5" ry="10.5" fill="#ffffff" stroke="#33d833" stroke-width="1.5"/><path d="M0,0 L10.50,0.00 A10.5,10.5 0 0 1 0.00,10.50 Z" fill="url(#hpF)" stroke="#2ad02a" stroke-width="0.7"/><line x1="-10.5" y1="0" x2="10.5" y2="0" stroke="#33d833" stroke-width="0.9"/><line x1="0" y1="-10.5" x2="0" y2="10.5" stroke="#33d833" stroke-width="0.9"/><ellipse rx="10.5" ry="10.5" fill="none" stroke="#33d833" stroke-width="1.5"/></g>
<g transform="translate(1511,227) rotate(-30)"><ellipse rx="11.6" ry="14" fill="#ffffff" stroke="#33d833" stroke-width="1.5"/><path d="M0,0 L-11.20,3.62 A11.6,14 0 0 1 -3.00,-13.52 Z" fill="url(#hpF)" stroke="#2ad02a" stroke-width="0.7"/><line x1="-11.6" y1="0" x2="11.6" y2="0" stroke="#33d833" stroke-width="0.9"/><line x1="0" y1="-14" x2="0" y2="14" stroke="#33d833" stroke-width="0.9"/><ellipse rx="11.6" ry="14" fill="none" stroke="#33d833" stroke-width="1.5"/></g>
<g transform="translate(1337.9,90.7) rotate(0)"><ellipse rx="8.6" ry="10" fill="#ffffff" stroke="#9c9c9c" stroke-width="1.2"/><path d="M0,0 L0.00,10.00 A8.6,10 0 0 1 -8.60,0.00 Z" fill="url(#hpC)" stroke="#505050" stroke-width="0.7"/><line x1="-8.6" y1="0" x2="8.6" y2="0" stroke="#9c9c9c" stroke-width="0.9"/><line x1="0" y1="-10" x2="0" y2="10" stroke="#9c9c9c" stroke-width="0.9"/><ellipse rx="8.6" ry="10" fill="none" stroke="#9c9c9c" stroke-width="1.2"/></g>
<g transform="translate(1379,97) rotate(-10)"><ellipse rx="12.5" ry="6.5" fill="#ffffff" stroke="#33d833" stroke-width="1.5"/><path d="M0,0 L-2.17,6.40 A12.5,6.5 0 0 1 -12.31,-1.13 Z" fill="url(#hpF)" stroke="#2ad02a" stroke-width="0.7"/><line x1="-12.5" y1="0" x2="12.5" y2="0" stroke="#33d833" stroke-width="0.9"/><line x1="0" y1="-6.5" x2="0" y2="6.5" stroke="#33d833" stroke-width="0.9"/><ellipse rx="12.5" ry="6.5" fill="none" stroke="#33d833" stroke-width="1.5"/></g>
<g transform="translate(1360.7,87) rotate(-35)"><ellipse rx="19" ry="14" fill="#ffffff" stroke="#33d833" stroke-width="1.5"/><path d="M0,0 L-10.90,11.47 A19,14 0 0 1 -15.56,-8.03 Z" fill="url(#hpF)" stroke="#2ad02a" stroke-width="0.7"/><line x1="-19" y1="0" x2="19" y2="0" stroke="#33d833" stroke-width="0.9"/><line x1="0" y1="-14" x2="0" y2="14" stroke="#33d833" stroke-width="0.9"/><ellipse rx="19" ry="14" fill="none" stroke="#33d833" stroke-width="1.5"/></g>
<g transform="translate(1357.9,45.3) rotate(5)"><ellipse rx="20.7" ry="9" fill="#ffffff" stroke="#33d833" stroke-width="1.5"/><path d="M0,0 L-1.80,-8.97 A20.7,9 0 0 1 20.62,-0.78 Z" fill="url(#hpF)" stroke="#2ad02a" stroke-width="0.7"/><line x1="-20.7" y1="0" x2="20.7" y2="0" stroke="#33d833" stroke-width="0.9"/><line x1="0" y1="-9" x2="0" y2="9" stroke="#33d833" stroke-width="0.9"/><ellipse rx="20.7" ry="9" fill="none" stroke="#33d833" stroke-width="1.5"/></g>
<g transform="translate(1283,86.4) rotate(30)"><ellipse rx="10" ry="15" fill="#ffffff" stroke="#33d833" stroke-width="1.5"/><path d="M0,0 L-2.59,14.49 A10,15 0 0 1 -9.66,-3.88 Z" fill="url(#hpF)" stroke="#2ad02a" stroke-width="0.7"/><line x1="-10" y1="0" x2="10" y2="0" stroke="#33d833" stroke-width="0.9"/><line x1="0" y1="-15" x2="0" y2="15" stroke="#33d833" stroke-width="0.9"/><ellipse rx="10" ry="15" fill="none" stroke="#33d833" stroke-width="1.5"/></g>
<line x1="1163.95" y1="283.48" x2="1139.60" y2="293.78" stroke="#000" stroke-width="5.6"/>
<line x1="1317.90" y1="162.75" x2="1292.60" y2="152.03" stroke="#000" stroke-width="5.6"/>
<line x1="1353.82" y1="147.74" x2="1330.44" y2="161.85" stroke="#000" stroke-width="5.6"/>
<line x1="1124.14" y1="191.52" x2="1089.11" y2="195.48" stroke="#000" stroke-width="5.6"/>
<line x1="1134.99" y1="197.07" x2="1153.65" y2="230.23" stroke="#000" stroke-width="5.6"/>
<line x1="1230.36" y1="366.15" x2="1208.23" y2="378.52" stroke="#000" stroke-width="5.6"/>
<line x1="1326.92" y1="172.09" x2="1338.88" y2="203.44" stroke="#000" stroke-width="5.6"/>
<line x1="1346.60" y1="211.01" x2="1386.60" y2="225.40" stroke="#000" stroke-width="5.6"/>
<line x1="1301.40" y1="232.50" x2="1335.88" y2="212.04" stroke="#000" stroke-width="5.6"/>
<line x1="1301.40" y1="232.50" x2="1326.04" y2="228.65" stroke="#000" stroke-width="5.6"/>
<line x1="1357.23" y1="137.33" x2="1340.70" y2="97.45" stroke="#000" stroke-width="5.6"/>
<line x1="1487.60" y1="230.50" x2="1518.24" y2="207.24" stroke="#000" stroke-width="5.6"/>
<line x1="1487.60" y1="230.50" x2="1502.22" y2="228.31" stroke="#000" stroke-width="5.6"/>
<line x1="1402.99" y1="295.82" x2="1418.82" y2="288.07" stroke="#000" stroke-width="5.6"/>
<text transform="translate(1159,102.10000000000001) scale(0.82,1)" font-size="10.4" font-weight="normal" fill="#969696" stroke="#969696" stroke-width="0.6" text-anchor="middle">C31</text>
<text transform="translate(1090,121.10000000000001) scale(0.82,1)" font-size="10.4" font-weight="normal" fill="#969696" stroke="#969696" stroke-width="0.6" text-anchor="middle">C30</text>
<text transform="translate(1075,160.5) scale(0.82,1)" font-size="10.4" font-weight="normal" fill="#969696" stroke="#969696" stroke-width="0.6" text-anchor="middle">C29</text>
<text transform="translate(1170,161.0) scale(0.82,1)" font-size="10.4" font-weight="normal" fill="#969696" stroke="#969696" stroke-width="0.6" text-anchor="middle">C32</text>
<text transform="translate(1150.5,191.2) scale(0.82,1)" font-size="10.4" font-weight="normal" fill="#969696" stroke="#969696" stroke-width="0.6" text-anchor="middle">C27</text>
<text transform="translate(1060.7,202.0) scale(0.82,1)" font-size="10.4" font-weight="normal" fill="#969696" stroke="#969696" stroke-width="0.6" text-anchor="middle">C28</text>
<text transform="translate(1097.9,225.1) scale(0.82,1)" font-size="10.4" font-weight="normal" fill="#969696" stroke="#969696" stroke-width="0.6" text-anchor="middle">C26</text>
<text transform="translate(1116.8,275.2) scale(0.82,1)" font-size="10.4" font-weight="normal" fill="#969696" stroke="#969696" stroke-width="0.6" text-anchor="middle">C25</text>
<text transform="translate(1166,300.7) scale(0.82,1)" font-size="10.4" font-weight="normal" fill="#969696" stroke="#969696" stroke-width="0.6" text-anchor="middle">C33</text>
<text transform="translate(1228.6,274.4) scale(0.82,1)" font-size="10.4" font-weight="normal" fill="#969696" stroke="#969696" stroke-width="0.6" text-anchor="middle">C24</text>
<text transform="translate(1170.3,250.39999999999998) scale(0.82,1)" font-size="10.4" font-weight="bold" fill="#1f1fd0" stroke="#1f1fd0" stroke-width="0.35" text-anchor="middle">N1</text>
<text transform="translate(1264,206.5) scale(0.82,1)" font-size="10.4" font-weight="bold" fill="#d61a1a" stroke="#d61a1a" stroke-width="0.35" text-anchor="middle">O1</text>
<text transform="translate(1307.8,249.89999999999998) scale(0.82,1)" font-size="10.4" font-weight="bold" fill="#eea030" stroke="#eea030" stroke-width="0.35" text-anchor="middle">B1</text>
<text transform="translate(1301,301.7) scale(0.82,1)" font-size="10.4" font-weight="normal" fill="#969696" stroke="#969696" stroke-width="0.6" text-anchor="middle">C1</text>
<text transform="translate(1263.8,330.7) scale(0.82,1)" font-size="10.4" font-weight="normal" fill="#969696" stroke="#969696" stroke-width="0.6" text-anchor="middle">C2</text>
<text transform="translate(1314.5,342.09999999999997) scale(0.82,1)" font-size="10.4" font-weight="normal" fill="#969696" stroke="#969696" stroke-width="0.6" text-anchor="middle">C6</text>
<text transform="translate(1252.3,372.5) scale(0.82,1)" font-size="10.4" font-weight="normal" fill="#969696" stroke="#969696" stroke-width="0.6" text-anchor="middle">C3</text>
<text transform="translate(1300.6,368.7) scale(0.82,1)" font-size="10.4" font-weight="normal" fill="#969696" stroke="#969696" stroke-width="0.6" text-anchor="middle">C5</text>
<text transform="translate(1263.8,411.9) scale(0.82,1)" font-size="10.4" font-weight="normal" fill="#969696" stroke="#969696" stroke-width="0.6" text-anchor="middle">C4</text>
<text transform="translate(1215.5,399.2) scale(0.82,1)" font-size="10.4" font-weight="normal" fill="#969696" stroke="#969696" stroke-width="0.6" text-anchor="middle">C7</text>
<text transform="translate(1314.5,430.9) scale(0.82,1)" font-size="10.4" font-weight="normal" fill="#969696" stroke="#969696" stroke-width="0.6" text-anchor="middle">C8</text>
<text transform="translate(1171,404.9) scale(0.82,1)" font-size="10.4" font-weight="bold" fill="#2ccc2c" stroke="#2ccc2c" stroke-width="0.35" text-anchor="middle">F1</text>
<text transform="translate(1209.2,345.9) scale(0.82,1)" font-size="10.4" font-weight="bold" fill="#2ccc2c" stroke="#2ccc2c" stroke-width="0.35" text-anchor="middle">F2</text>
<text transform="translate(1213,455.7) scale(0.82,1)" font-size="10.4" font-weight="bold" fill="#2ccc2c" stroke="#2ccc2c" stroke-width="0.35" text-anchor="middle">F3</text>
<text transform="translate(1305.7,472.3) scale(0.82,1)" font-size="10.4" font-weight="bold" fill="#2ccc2c" stroke="#2ccc2c" stroke-width="0.35" text-anchor="middle">F4</text>
<text transform="translate(1378.6,439.4) scale(0.82,1)" font-size="10.4" font-weight="bold" fill="#2ccc2c" stroke="#2ccc2c" stroke-width="0.35" text-anchor="middle">F5</text>
<text transform="translate(1327.2,399.2) scale(0.82,1)" font-size="10.4" font-weight="bold" fill="#2ccc2c" stroke="#2ccc2c" stroke-width="0.35" text-anchor="middle">F6</text>
<text transform="translate(1326,243.89999999999998) scale(0.82,1)" font-size="10.4" font-weight="normal" fill="#969696" stroke="#969696" stroke-width="0.6" text-anchor="middle">C9</text>
<text transform="translate(1338.2,274.4) scale(0.82,1)" font-size="10.4" font-weight="normal" fill="#969696" stroke="#969696" stroke-width="0.6" text-anchor="middle">C10</text>
<text transform="translate(1390.4,268.2) scale(0.82,1)" font-size="10.4" font-weight="normal" fill="#969696" stroke="#969696" stroke-width="0.6" text-anchor="middle">C11</text>
<text transform="translate(1376.4,202.2) scale(0.82,1)" font-size="10.4" font-weight="normal" fill="#969696" stroke="#969696" stroke-width="0.6" text-anchor="middle">C12</text>
<text transform="translate(1367.4,181.7) scale(0.82,1)" font-size="10.4" font-weight="normal" fill="#969696" stroke="#969696" stroke-width="0.6" text-anchor="middle">C13</text>
<text transform="translate(1317,196.2) scale(0.82,1)" font-size="10.4" font-weight="normal" fill="#969696" stroke="#969696" stroke-width="0.6" text-anchor="middle">C14</text>
<text transform="translate(1397,316.59999999999997) scale(0.82,1)" font-size="10.4" font-weight="normal" fill="#969696" stroke="#969696" stroke-width="0.6" text-anchor="middle">C15</text>
<text transform="translate(1441.4,338.0) scale(0.82,1)" font-size="10.4" font-weight="bold" fill="#2ccc2c" stroke="#2ccc2c" stroke-width="0.35" text-anchor="middle">F7</text>
<text transform="translate(1442.2,300.4) scale(0.82,1)" font-size="10.4" font-weight="bold" fill="#2ccc2c" stroke="#2ccc2c" stroke-width="0.35" text-anchor="middle">F8</text>
<text transform="translate(1380.5,346.4) scale(0.82,1)" font-size="10.4" font-weight="bold" fill="#2ccc2c" stroke="#2ccc2c" stroke-width="0.35" text-anchor="middle">F9</text>
<text transform="translate(1338,121.4) scale(0.82,1)" font-size="10.4" font-weight="normal" fill="#969696" stroke="#969696" stroke-width="0.6" text-anchor="middle">C16</text>
<text transform="translate(1388.6,84.7) scale(0.82,1)" font-size="10.4" font-weight="bold" fill="#2ccc2c" stroke="#2ccc2c" stroke-width="0.35" text-anchor="middle">F10</text>
<text transform="translate(1393.7,139.2) scale(0.82,1)" font-size="10.4" font-weight="bold" fill="#2ccc2c" stroke="#2ccc2c" stroke-width="0.35" text-anchor="middle">F11</text>
<text transform="translate(1282,129.0) scale(0.82,1)" font-size="10.4" font-weight="bold" fill="#2ccc2c" stroke="#2ccc2c" stroke-width="0.35" text-anchor="middle">F12</text>
<text transform="translate(1348.5,225.1) scale(0.82,1)" font-size="10.4" font-weight="normal" fill="#969696" stroke="#969696" stroke-width="0.6" text-anchor="middle">C17</text>
<text transform="translate(1412,237.89999999999998) scale(0.82,1)" font-size="10.4" font-weight="normal" fill="#969696" stroke="#969696" stroke-width="0.6" text-anchor="middle">C18</text>
<text transform="translate(1446,208.2) scale(0.82,1)" font-size="10.4" font-weight="normal" fill="#969696" stroke="#969696" stroke-width="0.6" text-anchor="middle">C19</text>
<text transform="translate(1433.5,171.7) scale(0.82,1)" font-size="10.4" font-weight="normal" fill="#969696" stroke="#969696" stroke-width="0.6" text-anchor="middle">C20</text>
<text transform="translate(1360.7,162.0) scale(0.82,1)" font-size="10.4" font-weight="normal" fill="#969696" stroke="#969696" stroke-width="0.6" text-anchor="middle">C21</text>
<text transform="translate(1306.5,177.39999999999998) scale(0.82,1)" font-size="10.4" font-weight="normal" fill="#969696" stroke="#969696" stroke-width="0.6" text-anchor="middle">C22</text>
<text transform="translate(1473.5,245.5) scale(0.82,1)" font-size="10.4" font-weight="normal" fill="#969696" stroke="#969696" stroke-width="0.6" text-anchor="middle">C23</text>
<text transform="translate(1504.5,296.2) scale(0.82,1)" font-size="10.4" font-weight="bold" fill="#2ccc2c" stroke="#2ccc2c" stroke-width="0.35" text-anchor="middle">F13</text>
<text transform="translate(1539.4,214.89999999999998) scale(0.82,1)" font-size="10.4" font-weight="bold" fill="#2ccc2c" stroke="#2ccc2c" stroke-width="0.35" text-anchor="middle">F14</text>
<text transform="translate(1524.6,245.5) scale(0.82,1)" font-size="10.4" font-weight="bold" fill="#2ccc2c" stroke="#2ccc2c" stroke-width="0.35" text-anchor="middle">F15</text>
<text transform="translate(1331.5,78.3) scale(0.82,1)" font-size="10.4" font-weight="normal" fill="#969696" stroke="#969696" stroke-width="0.6" text-anchor="middle">C24</text>
<text transform="translate(1400,103.7) scale(0.82,1)" font-size="10.4" font-weight="bold" fill="#2ccc2c" stroke="#2ccc2c" stroke-width="0.35" text-anchor="middle">F16</text>
<text transform="translate(1381,63.0) scale(0.82,1)" font-size="10.4" font-weight="bold" fill="#2ccc2c" stroke="#2ccc2c" stroke-width="0.35" text-anchor="middle">F17</text>
<text transform="translate(1303.6,78.3) scale(0.82,1)" font-size="10.4" font-weight="bold" fill="#2ccc2c" stroke="#2ccc2c" stroke-width="0.35" text-anchor="middle">F18</text>
</g>
</svg></body></html>
